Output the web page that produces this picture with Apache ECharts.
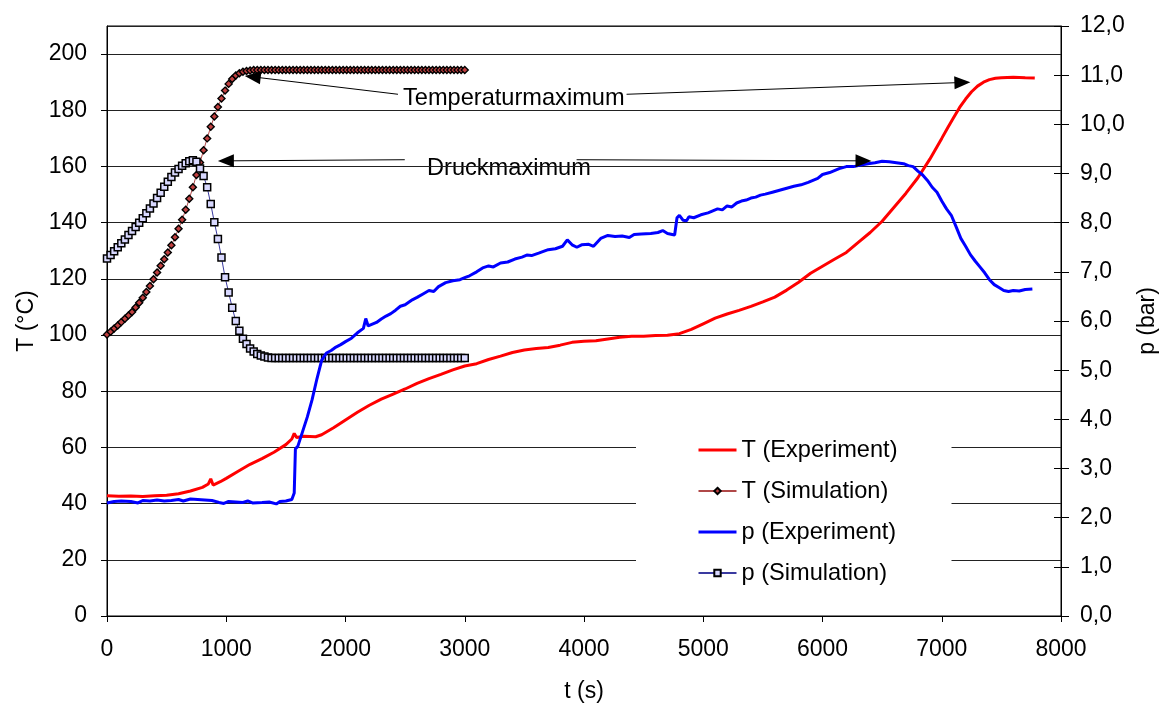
<!DOCTYPE html>
<html>
<head>
<meta charset="utf-8">
<script src="https://cdn.jsdelivr.net/npm/echarts@6/dist/echarts.min.js"></script>
<style>
html,body{margin:0;padding:0;background:#fff;}
#chart{width:1168px;height:704px;}
</style>
</head>
<body>
<div id="chart"></div>
<script>
// ---- Data ----
const seriesNames = ['T (Experiment)', 'T (Simulation)', 'p (Experiment)', 'p (Simulation)'];
const annotationTexts = ['Temperaturmaximum', 'Druckmaximum'];

// Experiment: temperature (°C) vs time (s)
const tExpTime = [0,100,200,300,400,500,600,700,800,850,870,890,950,1000,1100,1200,1300,1400,1500,1550,1570,1590,1650,1750,1800,1900,2000,2100,2200,2300,2400,2500,2600,2700,2800,2900,3000,3100,3200,3300,3400,3500,3600,3700,3800,3900,4000,4100,4200,4300,4400,4500,4600,4700,4800,4900,5000,5100,5200,5300,5400,5500,5600,5700,5800,5900,6000,6100,6200,6300,6400,6500,6600,6700,6800,6900,7000,7050,7100,7150,7200,7250,7300,7350,7400,7450,7500,7600,7700,7780];
const tExpValue = [42.8,42.6,42.7,42.5,42.8,43.0,43.5,44.5,45.8,47.0,48.8,46.6,47.8,49.0,51.5,54.0,56.0,58.3,61.0,63.0,65.0,63.5,64.0,63.8,64.5,67.0,69.8,72.5,75.0,77.2,79.0,80.8,82.8,84.5,86.0,87.6,89.0,89.8,91.3,92.5,93.8,94.7,95.2,95.6,96.4,97.4,97.8,98.0,98.6,99.2,99.6,99.6,99.8,99.9,100.5,102.0,104.0,106.0,107.5,108.8,110.2,111.8,113.5,116.0,118.8,122.0,124.5,127.0,129.4,133.0,136.5,140.5,145.5,150.5,156.0,162.6,170.0,173.8,177.4,181.0,184.0,186.6,188.6,190.0,190.9,191.4,191.6,191.8,191.6,191.5];

// Experiment: pressure (bar) vs time (s)
const pExpTime = [0,60,120,200,260,300,360,420,480,540,600,640,700,760,820,880,940,980,1020,1080,1140,1180,1220,1300,1360,1420,1450,1500,1550,1570,1580,1600,1640,1680,1720,1760,1800,1840,1880,1920,1960,2000,2050,2100,2150,2170,2190,2220,2260,2300,2340,2380,2420,2460,2500,2560,2600,2650,2700,2740,2780,2840,2900,2960,3000,3040,3100,3150,3200,3240,3300,3360,3420,3480,3520,3560,3620,3700,3760,3820,3860,3900,3940,3980,4040,4080,4140,4200,4260,4320,4380,4420,4480,4560,4620,4660,4700,4760,4780,4800,4830,4860,4880,4920,4980,5040,5080,5120,5160,5200,5240,5280,5320,5360,5400,5440,5480,5520,5580,5640,5700,5760,5820,5880,5920,5960,6000,6060,6100,6140,6200,6260,6320,6380,6440,6500,6560,6620,6680,6720,6760,6800,6840,6880,6920,6960,7000,7040,7080,7120,7160,7200,7240,7280,7320,7360,7400,7440,7480,7520,7560,7600,7650,7700,7760];
const pExpValue = [2.30,2.33,2.34,2.33,2.30,2.35,2.34,2.36,2.34,2.35,2.37,2.34,2.38,2.37,2.36,2.35,2.31,2.29,2.33,2.32,2.31,2.34,2.30,2.31,2.32,2.28,2.33,2.34,2.37,2.50,3.40,3.45,3.75,4.05,4.40,4.82,5.20,5.35,5.40,5.47,5.52,5.58,5.65,5.76,5.85,6.05,5.90,5.93,5.97,6.04,6.10,6.15,6.22,6.30,6.33,6.43,6.48,6.55,6.62,6.60,6.70,6.78,6.82,6.84,6.88,6.92,7.00,7.08,7.12,7.10,7.18,7.20,7.26,7.30,7.34,7.33,7.38,7.45,7.47,7.52,7.65,7.55,7.50,7.55,7.56,7.52,7.68,7.74,7.72,7.73,7.70,7.76,7.77,7.78,7.80,7.84,7.78,7.75,8.10,8.15,8.05,8.04,8.12,8.10,8.16,8.20,8.24,8.28,8.26,8.34,8.32,8.40,8.44,8.46,8.50,8.52,8.56,8.58,8.62,8.66,8.70,8.74,8.77,8.82,8.86,8.90,8.98,9.02,9.06,9.10,9.14,9.14,9.17,9.20,9.22,9.25,9.24,9.22,9.20,9.16,9.14,9.05,8.97,8.86,8.72,8.62,8.44,8.28,8.15,7.92,7.68,7.52,7.35,7.22,7.10,6.98,6.84,6.74,6.68,6.62,6.60,6.62,6.61,6.64,6.65];

// Simulation time (s)
const simTime = [0,30,60,90,120,150,180,210,240,270,300,330,360,390,420,450,480,510,540,570,600,630,660,690,720,750,780,810,840,870,900,930,960,990,1020,1050,1080,1110,1140,1170,1200,1230,1260,1290,1320,1350,1380,1410,1440,1470,1500,1530,1560,1590,1620,1650,1680,1710,1740,1770,1800,1830,1860,1890,1920,1950,1980,2010,2040,2070,2100,2130,2160,2190,2220,2250,2280,2310,2340,2370,2400,2430,2460,2490,2520,2550,2580,2610,2640,2670,2700,2730,2760,2790,2820,2850,2880,2910,2940,2970,3000];
// Simulation temperature (°C)
const tSimValue = [100.2,101.2,102.3,103.4,104.6,105.8,107.0,108.2,109.8,111.5,113.3,115.3,117.5,119.9,122.3,124.7,127.0,129.4,132.0,134.8,137.8,141.0,144.6,148.5,152.6,157.0,161.4,165.8,170.0,174.1,177.8,181.2,184.2,187.0,189.4,191.1,192.4,193.2,193.7,194.0,194.2,194.3,194.3,194.3,194.3,194.3,194.3,194.3,194.3,194.3,194.3,194.3,194.3,194.3,194.3,194.3,194.3,194.3,194.3,194.3,194.3,194.3,194.3,194.3,194.3,194.3,194.3,194.3,194.3,194.3,194.3,194.3,194.3,194.3,194.3,194.3,194.3,194.3,194.3,194.3,194.3,194.3,194.3,194.3,194.3,194.3,194.3,194.3,194.3,194.3,194.3,194.3,194.3,194.3,194.3,194.3,194.3,194.3,194.3,194.3,194.3];
// Simulation pressure (bar)
const pSimValue = [7.27,7.34,7.42,7.50,7.58,7.66,7.75,7.83,7.91,8.00,8.09,8.19,8.29,8.39,8.50,8.61,8.73,8.83,8.93,9.02,9.09,9.16,9.21,9.25,9.27,9.24,9.10,8.95,8.72,8.38,8.01,7.67,7.29,6.89,6.58,6.27,6.00,5.80,5.64,5.53,5.44,5.38,5.33,5.30,5.28,5.26,5.25,5.25,5.25,5.25,5.25,5.25,5.25,5.25,5.25,5.25,5.25,5.25,5.25,5.25,5.25,5.25,5.25,5.25,5.25,5.25,5.25,5.25,5.25,5.25,5.25,5.25,5.25,5.25,5.25,5.25,5.25,5.25,5.25,5.25,5.25,5.25,5.25,5.25,5.25,5.25,5.25,5.25,5.25,5.25,5.25,5.25,5.25,5.25,5.25,5.25,5.25,5.25,5.25,5.25,5.25];

// Annotation arrows in data units [time (s), T (°C)]: [start, end]
const arrowTempLeft  = [[2440, 185.7], [1222, 191.9]];
const arrowTempRight = [[4357, 185.7], [7173, 189.9]];
const arrowDruckLeft = [[2497, 162.4], [997, 162.0]];
const arrowDruckRight= [[3938, 162.4], [6344, 162.0]];

// ---- Chart ----
const FONT = "'Liberation Sans', Arial, sans-serif";
const FS = 23;
const FS_TXT = 23.6;
const zip = (a, b) => a.map((v, i) => [v, b[i]]);
const chart = echarts.init(document.getElementById('chart'), null, {renderer: 'canvas'});

const arrowLine = (seg) => [{coord: seg[0]}, {coord: seg[1]}];

const option = {
  backgroundColor: '#fff',
  animation: false,
  textStyle: {fontFamily: FONT, color: '#000'},
  grid: {left: 107, right: 107, top: 26, bottom: 88, show: true, borderColor: '#000', borderWidth: 1,
    containLabel: false, outerBoundsMode: 'none'},
  legend: {
    data: [
      {name: seriesNames[0], itemStyle: {opacity: 0}, lineStyle: {width: 3}},
      {name: seriesNames[1]},
      {name: seriesNames[2], itemStyle: {opacity: 0}, lineStyle: {width: 3}},
      {name: seriesNames[3]}
    ],
    orient: 'vertical',
    left: 636,
    top: 420,
    padding: [18, 54, 18, 61],
    backgroundColor: '#fff',
    itemWidth: 38,
    itemHeight: 8,
    itemGap: 17,
    textStyle: {fontFamily: FONT, fontSize: FS_TXT, color: '#000'}
  },
  xAxis: {
    type: 'value', min: 0, max: 8000, interval: 1000,
    name: 't (s)', nameLocation: 'middle', nameGap: 64,
    nameTextStyle: {fontFamily: FONT, fontSize: FS, color: '#000'},
    axisLine: {lineStyle: {color: '#000', width: 1}},
    axisTick: {show: true, length: 6, lineStyle: {color: '#000'}},
    axisLabel: {fontFamily: FONT, fontSize: FS, color: '#000', margin: 22, formatter: v => String(v)},
    splitLine: {show: false}
  },
  yAxis: [
    {
      type: 'value', min: 0, max: 210, interval: 20, position: 'left',
      name: 'T (°C)', nameLocation: 'middle', nameGap: 68, nameRotate: 90,
      nameTextStyle: {fontFamily: FONT, fontSize: FS, color: '#000'},
      axisLine: {show: true, lineStyle: {color: '#000', width: 1}},
      axisTick: {show: true, length: 6, lineStyle: {color: '#000'}},
      axisLabel: {fontFamily: FONT, fontSize: FS, color: '#000', margin: 20, showMaxLabel: false,
        formatter: v => (v > 200 ? '' : String(v))},
      splitLine: {show: true, lineStyle: {color: '#222', width: 1}}
    },
    {
      type: 'value', min: 0, max: 12, interval: 1, position: 'right',
      name: 'p (bar)', nameLocation: 'middle', nameGap: 71, nameRotate: 90,
      nameTextStyle: {fontFamily: FONT, fontSize: FS, color: '#000'},
      axisLine: {show: true, lineStyle: {color: '#000', width: 1}},
      axisTick: {show: true, length: 8, lineStyle: {color: '#000'}},
      axisLabel: {fontFamily: FONT, fontSize: FS, color: '#000', margin: 19,
        formatter: v => v.toFixed(1).replace('.', ',')},
      splitLine: {show: false}
    },
    {
      type: 'value', min: 0, max: 12, interval: 1, position: 'right',
      axisLine: {show: false},
      axisTick: {show: true, inside: true, length: 7, lineStyle: {color: '#000'}},
      axisLabel: {show: false},
      splitLine: {show: false}
    }
  ],
  graphic: [
    {type: 'text', left: 403, top: 86, style: {text: annotationTexts[0], font: FS_TXT + 'px ' + FONT, fill: '#000'}},
    {type: 'text', left: 427, top: 156, style: {text: annotationTexts[1], font: FS_TXT + 'px ' + FONT, fill: '#000'}}
  ],
  series: [
    {
      name: seriesNames[1], type: 'line', xAxisIndex: 0, yAxisIndex: 0,
      data: zip(simTime, tSimValue),
      symbol: 'diamond', symbolSize: 7, showAllSymbol: true,
      lineStyle: {color: '#b04848', width: 1},
      itemStyle: {color: '#c04040', borderColor: '#000', borderWidth: 1.4},
      z: 3
    },
    {
      name: seriesNames[3], type: 'line', xAxisIndex: 0, yAxisIndex: 1,
      data: zip(simTime, pSimValue),
      symbol: 'rect', symbolSize: 7, showAllSymbol: true,
      lineStyle: {color: '#3a3aa0', width: 1},
      itemStyle: {color: '#d8d8ff', borderColor: '#000', borderWidth: 1.5},
      z: 3
    },
    {
      name: seriesNames[0], type: 'line', xAxisIndex: 0, yAxisIndex: 0,
      data: zip(tExpTime, tExpValue),
      showSymbol: false, symbol: 'none',
      lineStyle: {color: '#ff0000', width: 3},
      itemStyle: {color: '#ff0000'},
      z: 4
    },
    {
      name: seriesNames[2], type: 'line', xAxisIndex: 0, yAxisIndex: 1,
      data: zip(pExpTime, pExpValue),
      showSymbol: false, symbol: 'none',
      lineStyle: {color: '#0000ff', width: 3},
      itemStyle: {color: '#0000ff'},
      z: 4
    },
    {
      name: 'annotations', type: 'line', xAxisIndex: 0, yAxisIndex: 0, data: [],
      silent: true,
      markLine: {
        silent: true,
        symbol: ['none', 'triangle'],
        symbolSize: [13, 16],
        label: {show: false},
        lineStyle: {color: '#000', width: 1, type: 'solid'},
        itemStyle: {color: '#000'},
        emphasis: {disabled: true},
        data: [arrowLine(arrowTempLeft), arrowLine(arrowTempRight), arrowLine(arrowDruckLeft), arrowLine(arrowDruckRight)]
      }
    }
  ]
};
chart.setOption(option);
</script>
</body>
</html>
